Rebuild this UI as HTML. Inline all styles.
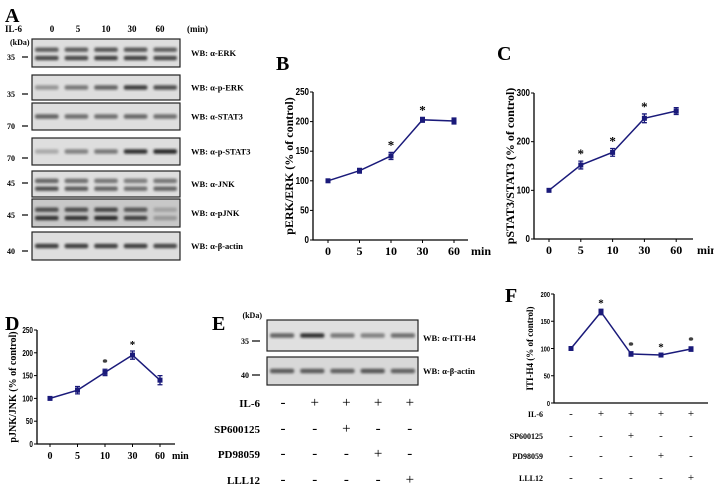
<!DOCTYPE html>
<html><head><meta charset="utf-8"><style>
html,body{margin:0;padding:0;background:#fff;}
svg{display:block;font-family:"Liberation Serif",serif;font-weight:bold;}
</style></head><body>
<svg id="fig" width="714" height="484" viewBox="0 0 714 484" xmlns="http://www.w3.org/2000/svg">
<defs>
<filter id="blur" x="-20%" y="-50%" width="140%" height="200%"><feGaussianBlur stdDeviation="1.3"/></filter>
</defs>
<g id="root"></g>
</svg>
<script>
// Panel B data
const timeCats = ["0","5","10","30","60"];
const pErkVals = [100,117,142,203,201];
const pErkErr = [2,4,6,4,5];
const pErkStars = [false,false,true,true,false];
const pErkTicks = [0,50,100,150,200,250];
// Panel C data
const pStatVals = [100,152,178,248,263];
const pStatErr = [2,8,8,9,7];
const pStatStars = [false,true,true,true,false];
const pStatTicks = [0,100,200,300];
// Panel D data
const pJnkVals = [100,118,157,195,140];
const pJnkErr = [2,8,7,9,10];
const pJnkStars = [false,false,true,true,false];
const pJnkTicks = [0,50,100,150,200,250];
// Panel F data
const itiVals = [100,167,90,88,99];
const itiErr = [2,5,4,3,4];
const itiStars = [false,true,true,true,true];
const itiTicks = [0,50,100,150,200];
const treatRows = ["IL-6","SP600125","PD98059","LLL12"];
const treatSigns = [["-","+","+","+","+"],["-","-","+","-","-"],["-","-","-","+","-"],["-","-","-","-","+"]];
// Blot intensities (0..1) per lane
const blotANames = ["WB: α-ERK","WB: α-p-ERK","WB: α-STAT3","WB: α-p-STAT3","WB: α-JNK","WB: α-pJNK","WB: α-β-actin"];
const blotAInt = [[0.75,0.75,0.8,0.78,0.75],[0.35,0.5,0.6,0.8,0.7],[0.6,0.55,0.55,0.58,0.55],[0.25,0.45,0.5,0.85,0.9],[0.7,0.65,0.6,0.55,0.6],[0.85,0.85,0.9,0.8,0.35],[0.8,0.8,0.78,0.8,0.75]];
const blotEInt = [[0.6,0.85,0.5,0.45,0.55],[0.65,0.65,0.62,0.68,0.62]];

const NS="http://www.w3.org/2000/svg";
const root=document.getElementById('root');
function mk(tag,attrs,parent){const e=document.createElementNS(NS,tag);for(const k in attrs)e.setAttribute(k,attrs[k]);(parent||root).appendChild(e);return e;}
function txt(s,x,y,size,anchor,parent,extra){const t=mk('text',Object.assign({x:x,y:y,'font-size':size,'text-anchor':anchor||'start',fill:'#000'},extra||{}),parent);t.textContent=s;return t;}

// Panel letters
[["A",5,22],["B",276,70],["C",497,60],["D",5,330],["E",212,330],["F",505,302]].forEach(p=>{
  const t=txt(p[0],p[1],p[2],20,'start');
  
  
});

// Line chart builder
function lineChart(name,o){
  const g=mk('g',{});
  
  
  const ymax=o.ticks[o.ticks.length-1];
  const ys=v=>o.y0-(v/ymax)*(o.y0-o.ytop);
  const xs=i=>o.xs0+i*o.dx;
  const ax=mk('path',{d:`M${o.ax},${o.ytop} L${o.ax},${o.y0} L${o.xend},${o.y0}`,stroke:'#000','stroke-width':1.3,fill:'none'},g);
  
  
  o.ticks.forEach(t=>{
    mk('line',{x1:o.ax-3,x2:o.ax,y1:ys(t),y2:ys(t),stroke:'#000','stroke-width':1},g);
    const l=txt(String(t),o.ax-4,ys(t)+3,o.tfs,'end',g,{'font-family':'Liberation Sans, sans-serif','transform':`scale(0.8,1)`});
    l.setAttribute('x',(o.ax-4)/0.8);
    
    
  });
  o.vals.forEach((v,i)=>{ if(o.cats) mk('line',{x1:xs(i),x2:xs(i),y1:o.y0,y2:o.y0+3,stroke:'#000','stroke-width':1},g); });
  if(o.cats){
    o.cats.forEach((c,i)=>{const l=txt(c,xs(i),o.y0+15,o.xfs,'middle',g);
      
      });
    const m=txt('min',o.minx,o.y0+15,o.xfs,'start',g);
    
    
  }
  const yl=txt(o.ylabel,0,0,o.yfs,'middle',g,{transform:`translate(${o.ylx},${(o.ytop+o.y0)/2}) rotate(-90)`});
  
  
  const pts=o.vals.map((v,i)=>`${xs(i)},${ys(v)}`).join(' ');
  const pl=mk('polyline',{points:pts,fill:'none',stroke:'#1a1a7a','stroke-width':1.5},g);
  
  
  o.vals.forEach((v,i)=>{
    const x=xs(i),e=o.err[i];
    mk('path',{d:`M${x},${ys(v+e)} L${x},${ys(v-e)} M${x-2.5},${ys(v+e)} L${x+2.5},${ys(v+e)} M${x-2.5},${ys(v-e)} L${x+2.5},${ys(v-e)}`,stroke:'#1a1a7a','stroke-width':1.3,fill:'none'},g);
    const c=mk('rect',{x:x-2.5,y:ys(v)-2.5,width:5,height:5,fill:'#1a1a7a'},g);
    
    
    if(o.stars[i]){const s=txt('*',x,ys(v+e)-3,o.sfs,'middle',g);
      
      }
  });
  return {g,xs};
}

lineChart('chart-perk',{vals:pErkVals,err:pErkErr,stars:pErkStars,ticks:pErkTicks,cats:timeCats,ax:313,y0:240,ytop:92,xs0:328,dx:31.5,xend:468,minx:471,tfs:10,xfs:12,yfs:12,sfs:13,ylx:293,ylabel:'pERK/ERK (% of control)'});
lineChart('chart-pstat3',{vals:pStatVals,err:pStatErr,stars:pStatStars,ticks:pStatTicks,cats:timeCats,ax:534,y0:239,ytop:93,xs0:549,dx:31.8,xend:693,minx:697,tfs:10,xfs:12,yfs:12,sfs:13,ylx:514,ylabel:'pSTAT3/STAT3 (% of control)'});
lineChart('chart-pjnk',{vals:pJnkVals,err:pJnkErr,stars:pJnkStars,ticks:pJnkTicks,cats:timeCats,ax:37,y0:444,ytop:330,xs0:50,dx:27.5,xend:175,minx:172,tfs:8,xfs:10,yfs:10,sfs:11,ylx:16,ylabel:'pJNK/JNK (% of control)'});
const fch=lineChart('chart-iti-h4',{vals:itiVals,err:itiErr,stars:itiStars,ticks:itiTicks,cats:null,ax:554,y0:403,ytop:294,xs0:571,dx:30,xend:708,tfs:7,xfs:8,yfs:9,sfs:11,ylx:533,ylabel:'ITI-H4 (% of control)'});

// Treatment tables
function treatTable(name,labelX,colX0,dcol,rowY,fs,signFs){
  const g=mk('g',{});
  
  
  treatRows.forEach((r,ri)=>{
    const l=txt(r,labelX,rowY[ri],fs,'end',g);
    
    
    treatSigns[ri].forEach((s,ci)=>{
      const t=txt(s,colX0+ci*dcol,rowY[ri],signFs,'middle',g,{'font-weight':'normal'});
      
      
    });
  });
}
treatTable('treatment-table-e',260,283,31.7,[407,433,458,484],11,15);
treatTable('treatment-table-f',543,571,30,[417,439,459,481],8,11);

// Blots
function blot(name,x,y,w,h,ints,nb,fill){
  const g=mk('g',{});
  
  
  mk('rect',{x:x,y:y,width:w,height:h,fill:fill||'#dedede',stroke:'#222','stroke-width':1.2},g);
  const lw=w/ints.length;
  ints.forEach((v,i)=>{
    for(let b=0;b<nb;b++){
      const cy=y+h*(nb==1?0.5:(b==0?0.38:0.68));
      const c=Math.round(220-200*v*(nb==2&&b==0?0.85:1));
      const band=mk('rect',{x:x+i*lw+3,y:cy-2.2,width:lw-6,height:4.4,rx:2,fill:`rgb(${c},${c},${c})`,filter:'url(#blur)'},g);
      
      
    }
  });
}
// Panel A header
[["IL-6",5],["0",52],["5",78],["10",106],["30",132],["60",160],["(min)",187]].forEach((h,i)=>{
  const t=txt(h[0],h[1],32,9,i==0||i==6?'start':'middle');
  
  
});
const tk=txt('(kDa)',10,45,8,'start');


const rowsA=[[39,67,2,57,'35'],[75,100,1,94,'35'],[103,130,1,126,'70'],[138,165,1,158,'70'],[171,197,2,183,'45'],[199,227,2,215,'45'],[232,260,1,251,'40']];
rowsA.forEach((r,i)=>{
  blot('blot-a-'+i,32,r[0],148,r[1]-r[0],blotAInt[i],r[2],i==5?'#c8c8c8':'#dedede');
  const l=txt(blotANames[i],191,(r[0]+r[1])/2+3,8.5,'start');
  
  
  const m=txt(r[4],7,r[3]+3,8,'start');
  
  
  mk('line',{x1:22,x2:28,y1:r[3],y2:r[3],stroke:'#000','stroke-width':1.2});
});
// Panel E blots
blot('blot-e-iti-h4',267,320,151,31,blotEInt[0],1,'#e0e0e0');
blot('blot-e-actin',267,357,151,28,blotEInt[1],1,'#d8d8d8');
[["(kDa)",262,318],["35",249,344],["40",249,378]].forEach(m=>{
  const t=txt(m[0],m[1],m[2],8,'end');
  
  
});
mk('line',{x1:252,x2:260,y1:341,y2:341,stroke:'#000','stroke-width':1.2});
mk('line',{x1:252,x2:260,y1:375,y2:375,stroke:'#000','stroke-width':1.2});
[["WB: α-ITI-H4",341],["WB: α-β-actin",374]].forEach(m=>{
  const t=txt(m[0],423,m[1],8.5,'start');
  
  
});
</script>
</body></html>
